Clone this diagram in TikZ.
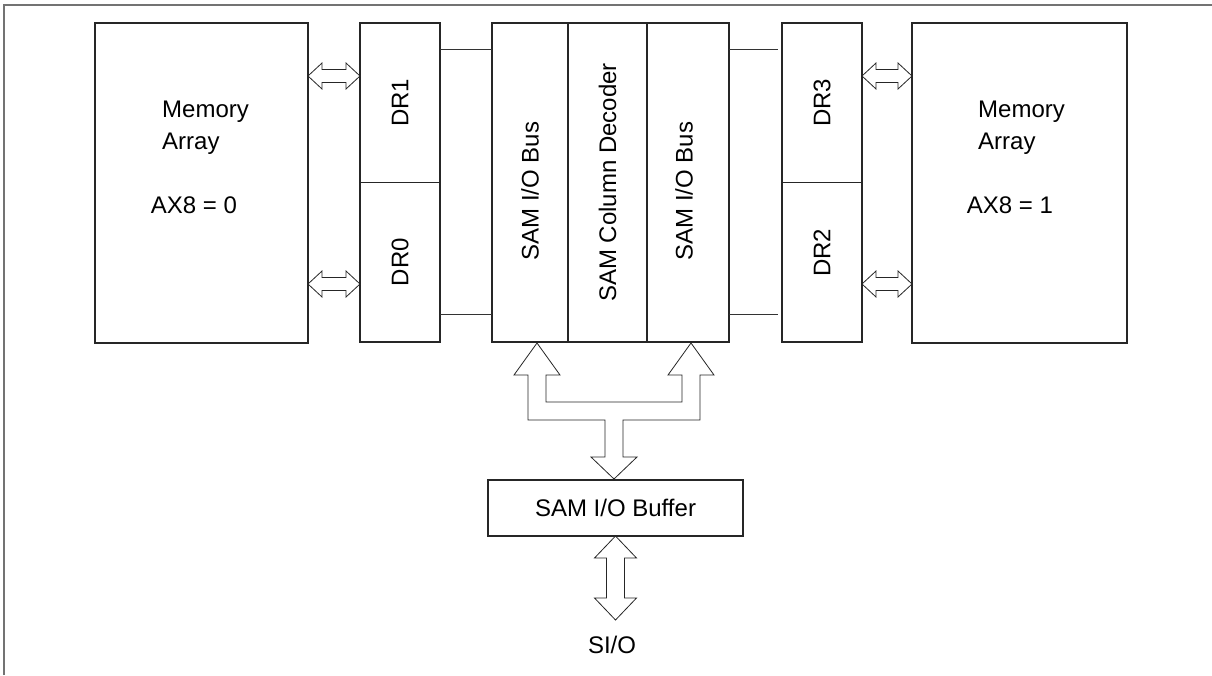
\documentclass[tikz,border=0pt]{standalone}
\usepackage{fontspec}
\setmainfont{Liberation Sans}
\usetikzlibrary{positioning,calc}
\tikzset{%
	box/.style={draw=black!85, line width=1.1pt, inner sep=0pt, outer sep=0pt, anchor=north west},
	membox/.style={box, minimum width=213pt, minimum height=320pt},
	drbox/.style={box, minimum width=80pt, minimum height=159.5pt},
	sambox/.style={box, minimum height=319pt},
	txt/.style={font=\fontsize{24}{29}\selectfont, inner sep=0pt},
	vtxt/.style={txt, rotate=90},
	wire/.style={draw=black!80, line width=0.9pt},
	bus/.style={draw=black!85, line width=0.8pt, fill=white},
	hbus/.style={bus, to path={let \p1=(\tikztostart), \p2=(\tikztotarget) in
		(\p1) -- (\x1+14pt,\y1+13pt) -- (\x1+14pt,\y1+6.5pt) -- (\x2-14pt,\y1+6.5pt) -- (\x2-14pt,\y1+13pt)
		-- (\x2,\y1) -- (\x2-14pt,\y1-13pt) -- (\x2-14pt,\y1-6.5pt) -- (\x1+14pt,\y1-6.5pt) -- (\x1+14pt,\y1-13pt) -- cycle}},
	vbus/.style={bus, to path={let \p1=(\tikztostart), \p2=(\tikztotarget) in
		(\p1) -- (\x1+21pt,\y1-22pt) -- (\x1+9pt,\y1-22pt) -- (\x1+9pt,\y2+22pt) -- (\x1+21pt,\y2+22pt)
		-- (\x1,\y2) -- (\x1-21pt,\y2+22pt) -- (\x1-9pt,\y2+22pt) -- (\x1-9pt,\y1-22pt) -- (\x1-21pt,\y1-22pt) -- cycle}},
	frame/.style={draw=black!55, line width=1.2pt}
}

\begin{document}
\begin{tikzpicture}[x=1pt, y=-1pt]
	\useasboundingbox (0,0) rectangle (1212,675);
	\draw[frame] (4,675) -- (4,5) -- (1212,5);

	% memory arrays and data registers
	\node[membox] (mem0) at (95,23) {};
	\node[drbox] (dr1) [right=52pt of mem0.north east, anchor=north west] {};
	\node[drbox] (dr0) [below=0pt of dr1.south west, anchor=north west] {};
	\node[sambox, minimum width=76pt] (sam1) [right=52pt of dr1.north east, anchor=north west] {};
	\node[sambox, minimum width=79pt] (sam2) [right=0pt of sam1.north east, anchor=north west] {};
	\node[sambox, minimum width=82pt] (sam3) [right=0pt of sam2.north east, anchor=north west] {};
	\node[drbox] (dr3) [right=53pt of sam3.north east, anchor=north west] {};
	\node[drbox] (dr2) [below=0pt of dr3.south west, anchor=north west] {};
	\node[membox, minimum width=215pt] (mem1) [right=50pt of dr3.north east, anchor=north west] {};

	\node[box, anchor=center, minimum width=255pt, minimum height=56pt, txt] (buf) at (615.5,508) {SAM I/O Buffer};
	\node[txt] (sio) at (612,645) {SI/O};

	% labels
	\node[txt, anchor=base west] at ([shift={(67,94)}]mem0.north west) {Memory};
	\node[txt, anchor=base west] at ([shift={(67,126)}]mem0.north west) {Array};
	\node[txt, anchor=base] at ([shift={(99,190)}]mem0.north west) {AX8 = 0};
	\node[txt, anchor=base west] at ([shift={(66,94)}]mem1.north west) {Memory};
	\node[txt, anchor=base west] at ([shift={(66,126)}]mem1.north west) {Array};
	\node[txt, anchor=base] at ([shift={(98,190)}]mem1.north west) {AX8 = 1};

	\node[vtxt] at (dr1.center) {DR1};
	\node[vtxt] at (dr0.center) {DR0};
	\node[vtxt] at (dr3.center) {DR3};
	\node[vtxt] at ([yshift=9.5pt]dr2.center) {DR2};
	\node[vtxt] at ([yshift=-8.5pt]sam1.center) {SAM I/O Bus};
	\node[vtxt] at (sam2.center) {SAM Column Decoder};
	\node[vtxt] at ([shift={(-4,8.5)}]sam3.center) {SAM I/O Bus};

	% wires
	\coordinate (wtl) at ($(sam1.north west)+(0,26)$);
	\coordinate (wbl) at ($(sam1.south west)+(0,-28)$);
	\coordinate (wtr) at ($(sam3.north east)+(0,26)$);
	\coordinate (wbr) at ($(sam3.south east)+(0,-28)$);
	\draw[wire] (dr1.east |- wtl) -- (wtl);
	\draw[wire] (dr0.east |- wbl) -- (wbl);
	\draw[wire] (wtr) -- ([xshift=-4pt]dr3.west |- wtr);
	\draw[wire] (wbr) -- ([xshift=-4pt]dr2.west |- wbr);

	% buses
	\draw[hbus] ($(mem0.north east)+(0,53)$) to ($(dr1.north west)+(0,53)$);
	\draw[hbus] ($(mem0.north east)+(0,261)$) to ($(dr0.north west)+(0,101.5)$);
	\draw[hbus] ($(dr3.north east)+(0,53)$) to ($(mem1.north west)+(0,53)$);
	\draw[hbus] ($(dr2.north east)+(0,101.5)$) to ($(mem1.north west)+(0,261)$);

	\draw[bus] (537,343) -- (560,375) -- (546,375) -- (546,402) -- (682,402) -- (682,375) -- (668,375)
		-- (691,343) -- (714,375) -- (700,375) -- (700,420) -- (623,420) -- (623,457) -- (637,457)
		-- (614,479) -- (591,457) -- (605,457) -- (605,420) -- (528,420) -- (528,375) -- (514,375) -- cycle;

	\draw[vbus] (buf.south) to ([yshift=16pt]sio.north);
\end{tikzpicture}
\end{document}
